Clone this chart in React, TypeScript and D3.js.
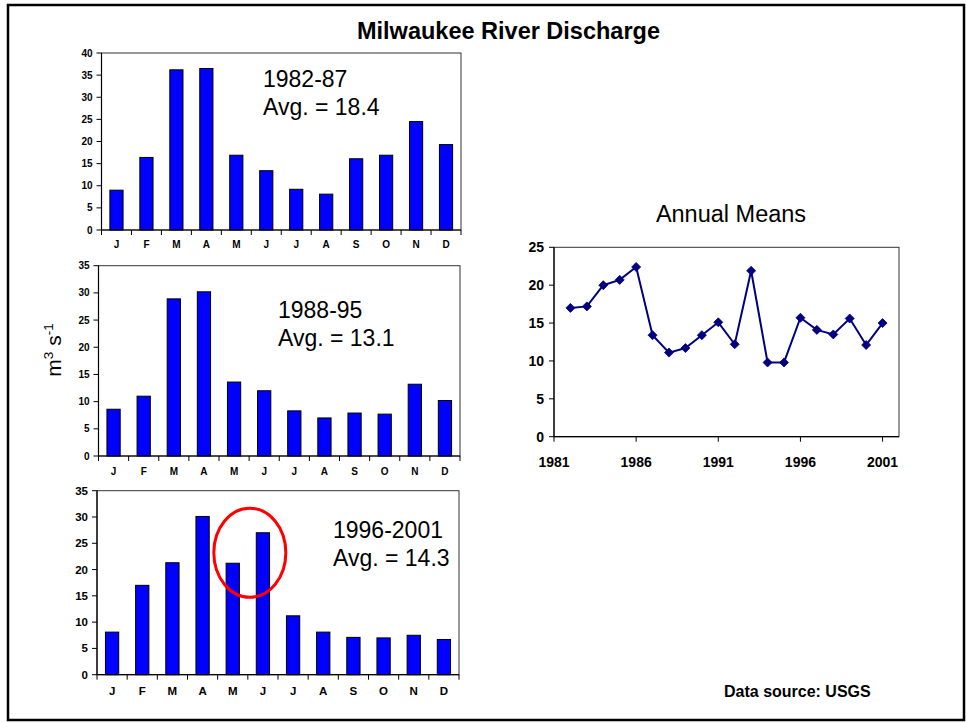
import React from "react";
import * as d3 from "d3";

const months = ["J", "F", "M", "A", "M", "J", "J", "A", "S", "O", "N", "D"];
const flow1982to87 = [9.0, 16.4, 36.2, 36.5, 16.9, 13.4, 9.2, 8.1, 16.1, 16.9, 24.5, 19.3];
const flow1988to95 = [8.6, 11.0, 28.9, 30.2, 13.6, 12.0, 8.3, 7.0, 7.9, 7.7, 13.2, 10.2];
const flow1996to01 = [8.1, 17.0, 21.3, 30.1, 21.2, 27.0, 11.2, 8.1, 7.1, 7.0, 7.5, 6.7];
const periodLabels = ["1982-87", "1988-95", "1996-2001"];
const avgLabels = ["Avg. = 18.4", "Avg. = 13.1", "Avg. = 14.3"];
const years = [1982, 1983, 1984, 1985, 1986, 1987, 1988, 1989, 1990, 1991, 1992, 1993, 1994, 1995, 1996, 1997, 1998, 1999, 2000, 2001];
const annualMeans = [17.0, 17.2, 20.0, 20.7, 22.4, 13.4, 11.1, 11.7, 13.4, 15.1, 12.2, 21.9, 9.8, 9.8, 15.7, 14.1, 13.5, 15.6, 12.1, 15.0];
const yearTicks = [1981, 1986, 1991, 1996, 2001];
const annualTicks = [0, 5, 10, 15, 20, 25];

const FONT = "'Liberation Sans', Arial, Helvetica, sans-serif";

type PanelLayout = {
  x0: number; x1: number; top: number; bottom: number; max: number;
  lx: number; ly: number; tickFont: number; labelGap: number;
};

const layouts: PanelLayout[] = [
  { x0: 101.5, x1: 461, top: 53, bottom: 230, max: 40, lx: 263, ly: 87, tickFont: 10, labelGap: 18 },
  { x0: 98.5, x1: 460, top: 265.7, bottom: 456, max: 35, lx: 278, ly: 318, tickFont: 10, labelGap: 19 },
  { x0: 97, x1: 459, top: 490.7, bottom: 674.7, max: 35, lx: 333, ly: 538, tickFont: 11.5, labelGap: 20 },
];

const panelData = [flow1982to87, flow1988to95, flow1996to01];

function BarPanel({ values, layout, idx }: { values: number[]; layout: PanelLayout; idx: number }) {
  const x = d3.scaleBand<number>().domain(d3.range(values.length)).range([layout.x0, layout.x1]).paddingInner(0.56).paddingOuter(0.28);
  const y = d3.scaleLinear().domain([0, layout.max]).range([layout.bottom, layout.top]);
  const yTicks = d3.range(0, layout.max + 0.001, 5);
  const step = (layout.x1 - layout.x0) / values.length;
  const bounds = d3.range(values.length + 1).map((i) => layout.x0 + i * step);
  let circle = null;
  if (idx === 2) {
    const cx = (x(4)! + x(5)!) / 2 + x.bandwidth() / 2 + 2;
    const cy = y(23.2);
    circle = <ellipse cx={cx} cy={cy} rx={36} ry={44.5} fill="none" stroke="#ff0000" strokeWidth={3} />;
  }
  return (
    <g>
      <rect x={layout.x0} y={layout.top} width={layout.x1 - layout.x0} height={layout.bottom - layout.top} fill="none" stroke="#333" strokeWidth={1} />
      {values.map((v, i) => (
        <rect key={i} x={x(i)} y={y(v)} width={x.bandwidth()} height={layout.bottom - y(v)} fill="#0000ff" stroke="#000" strokeWidth={1} />
      ))}
      <line x1={layout.x0} x2={layout.x0} y1={layout.top} y2={layout.bottom} stroke="#000" strokeWidth={1.2} />
      <line x1={layout.x0} x2={layout.x1} y1={layout.bottom} y2={layout.bottom} stroke="#000" strokeWidth={1.2} />
      {yTicks.map((t) => (
        <g key={t}>
          <line x1={layout.x0 - 5} x2={layout.x0} y1={y(t)} y2={y(t)} stroke="#000" />
          <text x={layout.x0 - 9} y={y(t)} dy="0.35em" textAnchor="end" fontFamily={FONT} fontWeight="bold" fontSize={layout.tickFont}>{t}</text>
        </g>
      ))}
      {bounds.map((b, i) => (
        <line key={i} x1={b} x2={b} y1={layout.bottom} y2={layout.bottom + 5} stroke="#000" />
      ))}
      {values.map((_, i) => (
        <text key={i} x={x(i)! + x.bandwidth() / 2} y={layout.bottom + layout.labelGap} textAnchor="middle" fontFamily={FONT} fontWeight="bold" fontSize={layout.tickFont}>{months[i]}</text>
      ))}
      <text x={layout.lx} y={layout.ly} fontFamily={FONT} fontSize={23}>{periodLabels[idx]}</text>
      <text x={layout.lx} y={layout.ly + 28} fontFamily={FONT} fontSize={23}>{avgLabels[idx]}</text>
      {circle}
    </g>
  );
}

function LineChart() {
  const left = 554, right = 899, top = 247.3, bottom = 436.7;
  const x = d3.scaleLinear().domain([1981, 2002]).range([left, right]);
  const y = d3.scaleLinear().domain([0, 25]).range([bottom, top]);
  const line = d3.line<number>().x((_, i) => x(years[i])).y((d) => y(d));
  const diamond = d3.symbol().type(d3.symbolDiamond2).size(52)()!;
  return (
    <g>
      <text x={731} y={222} textAnchor="middle" fontFamily={FONT} fontSize={23.5}>Annual Means</text>
      <rect x={left} y={top} width={right - left} height={bottom - top} fill="none" stroke="#333" strokeWidth={1} />
      <line x1={left} x2={left} y1={top} y2={bottom} stroke="#000" strokeWidth={1.2} />
      <line x1={left} x2={right} y1={bottom} y2={bottom} stroke="#000" strokeWidth={1.2} />
      {annualTicks.map((t) => (
        <g key={t}>
          <line x1={left - 5} x2={left} y1={y(t)} y2={y(t)} stroke="#000" />
          <text x={left - 10} y={y(t)} dy="0.35em" textAnchor="end" fontFamily={FONT} fontWeight="bold" fontSize={14}>{t}</text>
        </g>
      ))}
      {yearTicks.map((t) => (
        <g key={t}>
          <line x1={x(t)} x2={x(t)} y1={bottom} y2={bottom + 5} stroke="#000" />
          <text x={x(t)} y={bottom + 30} textAnchor="middle" fontFamily={FONT} fontWeight="bold" fontSize={14}>{t}</text>
        </g>
      ))}
      <path d={line(annualMeans) || ""} fill="none" stroke="#000080" strokeWidth={2} />
      {annualMeans.map((v, i) => (
        <path key={i} d={diamond} transform={`translate(${x(years[i])},${y(v)})`} fill="#000080" stroke="#000080" strokeWidth={0.8} />
      ))}
    </g>
  );
}

export default function App() {
  return (
    <svg width={967} height={723} style={{ position: "absolute", left: 0, top: 0, background: "#fff" }}>
      <rect x={0} y={0} width={967} height={723} fill="#fff" />
      <rect x={8} y={5} width={956} height={715} fill="none" stroke="#000" strokeWidth={2.5} />
      <text x={508.5} y={39} textAnchor="middle" fontFamily={FONT} fontWeight="bold" fontSize={23.5}>Milwaukee River Discharge</text>
      <text transform="translate(61,350) rotate(-90)" textAnchor="middle" fontFamily={FONT} fontSize={21}>
        m<tspan fontSize={13.5} dy={-8}>3</tspan><tspan dy={8}> s</tspan><tspan fontSize={13.5} dy={-8}>-1</tspan>
      </text>
      {panelData.map((vals, i) => (
        <BarPanel key={i} values={vals} layout={layouts[i]} idx={i} />
      ))}
      <LineChart />
      <text x={724} y={697} fontFamily={FONT} fontWeight="bold" fontSize={16}>Data source: USGS</text>
    </svg>
  );
}
